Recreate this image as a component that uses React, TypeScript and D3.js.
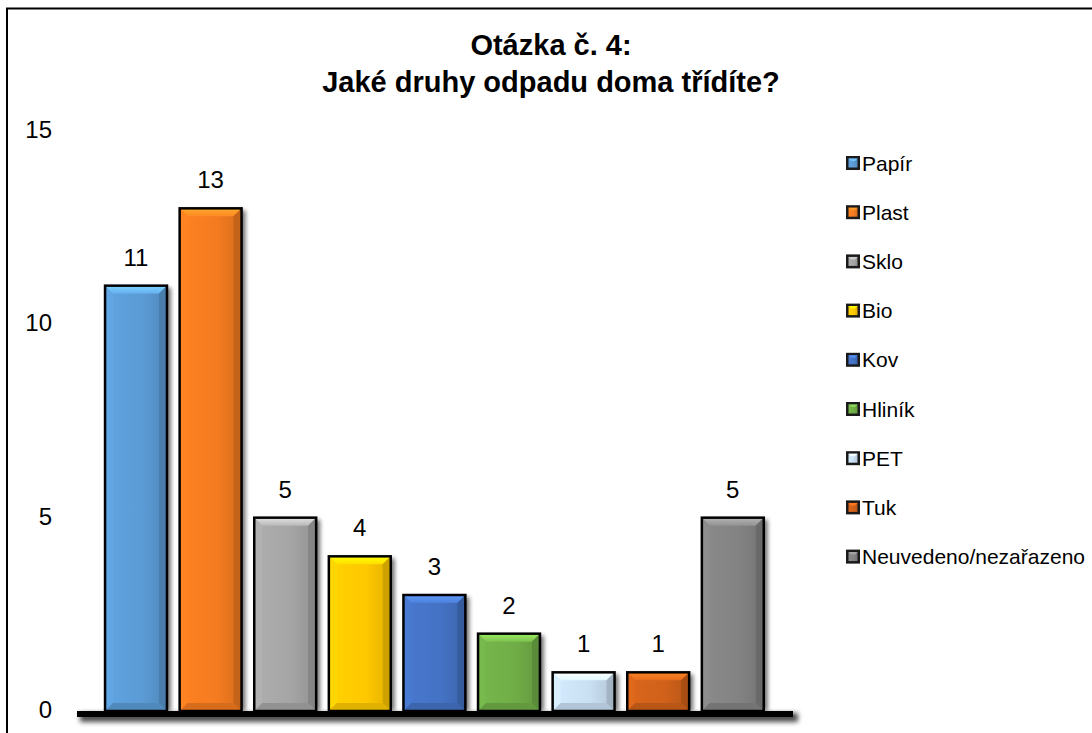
import React from "react";
import * as d3 from "d3";

const categories = ["Papír", "Plast", "Sklo", "Bio", "Kov", "Hliník", "PET", "Tuk", "Neuvedeno/nezařazeno"];
const values = [11, 13, 5, 4, 3, 2, 1, 1, 5];
const colors = ["#5b9bd5", "#f47b20", "#a5a5a5", "#ffc800", "#4472c4", "#70ad47", "#c9dff2", "#d0611a", "#838383"];
const yTicks = [0, 5, 10, 15];
const titleLines = ["Otázka č. 4:", "Jaké druhy odpadu doma třídíte?"];

const W = 1092;
const H = 733;

export default function App() {
  const x = d3.scaleBand<string>().domain(categories).range([98.7, 770.1]).paddingInner(0.17).paddingOuter(0.085);
  const y = d3.scaleLinear().domain([0, 15]).range([711, 131]);
  const bw = x.bandwidth();
  const bev = 8;
  const font = "'Liberation Sans', Arial, sans-serif";

  return (
    <div style={{ position: "absolute", left: 0, top: 0 }}>
      <svg width={W} height={H} style={{ display: "block", background: "#fff" }}>
        <defs>
          <filter id="blur2" x="-20%" y="-50%" width="140%" height="300%">
            <feGaussianBlur stdDeviation="2.5" />
          </filter>
          <filter id="blur1" x="-50%" y="-5%" width="200%" height="110%">
            <feGaussianBlur stdDeviation="1.2" />
          </filter>
          <filter id="bshadow" x="-30%" y="-10%" width="160%" height="120%">
            <feGaussianBlur stdDeviation="2" />
          </filter>
          {colors.map((c, i) => (
            <linearGradient key={i} id={`g${i}`} x1="0" x2="1" y1="0" y2="0">
              <stop offset="0" stopColor={d3.color(c)!.brighter(0.15).toString()} />
              <stop offset="0.6" stopColor={d3.color(c)!.toString()} />
              <stop offset="1" stopColor={d3.color(c)!.darker(0.35).toString()} />
            </linearGradient>
          ))}
          {colors.map((c, i) => (
            <linearGradient key={"t" + i} id={`t${i}`} x1="0" x2="0" y1="0" y2="1">
              <stop offset="0" stopColor={d3.color(c)!.brighter(0.9).toString()} />
              <stop offset="1" stopColor={d3.color(c)!.brighter(0.3).toString()} />
            </linearGradient>
          ))}
        </defs>

        {/* outer border */}
        <rect x={7} y={8.5} width={W + 20} height={H + 20} fill="none" stroke="#000" strokeWidth={2} />

        {/* title */}
        {titleLines.map((t, i) => (
          <text key={i} x={551} y={55 + i * 37} textAnchor="middle" fontFamily={font} fontWeight="bold" fontSize={29} fill="#000">
            {t}
          </text>
        ))}

        {/* walls */}
        <line x1={75} x2={75} y1={135} y2={711} stroke="#999" strokeWidth={2.5} filter="url(#blur1)" />
        <line x1={794} x2={794} y1={130} y2={711} stroke="#aaa" strokeWidth={2.5} filter="url(#blur1)" />

        {/* floor */}
        <rect x={80} y={713} width={718} height={9} fill="#000" opacity={0.7} filter="url(#blur2)" />
        <rect x={77} y={711} width={716} height={6} fill="#000" />

        {/* y tick labels */}
        {yTicks.map((t) => (
          <text key={t} x={52} y={y(t) + 7} textAnchor="end" fontFamily={font} fontSize={24} fill="#000">
            {t}
          </text>
        ))}

        {/* bars */}
        {categories.map((c, i) => {
          const x0 = x(c)!;
          const y0 = y(values[i]);
          const h = y(0) - y0;
          const lighter = d3.color(colors[i])!.brighter(0.25).toString();
          const dark = d3.color(colors[i])!.darker(0.7).toString();
          const darkish = d3.color(colors[i])!.darker(0.35).toString();
          const x1 = x0 + bw;
          const y1 = y(0);
          const b = Math.min(bev, h / 2);
          return (
            <g key={c}>
              <rect x={x0 + 4} y={y0 + 2} width={bw} height={h - 2} fill="#000" opacity={0.55} filter="url(#bshadow)" />
              <rect x={x0} y={y0} width={bw} height={h} fill={`url(#g${i})`} />
              <polygon points={`${x0},${y0} ${x1},${y0} ${x1 - b},${y0 + b} ${x0 + b},${y0 + b}`} fill={`url(#t${i})`} />
              <polygon points={`${x0},${y0} ${x0 + b},${y0 + b} ${x0 + b},${y1 - b} ${x0},${y1}`} fill={lighter} opacity={0.6} />
              <polygon points={`${x1},${y0} ${x1 - b},${y0 + b} ${x1 - b},${y1 - b} ${x1},${y1}`} fill={dark} opacity={0.8} />
              <polygon points={`${x0},${y1} ${x0 + b},${y1 - b} ${x1 - b},${y1 - b} ${x1},${y1}`} fill={darkish} />
              <rect x={x0} y={y0} width={bw} height={h} fill="none" stroke="#000" strokeWidth={2.5} />
              <text x={x0 + bw / 2} y={y0 - 20} textAnchor="middle" fontFamily={font} fontSize={24} fill="#000">
                {values[i]}
              </text>
              <title>{`${c}: ${values[i]}`}</title>
            </g>
          );
        })}

        {/* legend */}
        {categories.map((c, i) => {
          const cy = 163 + i * 49.2;
          return (
            <g key={"l" + c}>
              <rect x={846} y={cy - 7} width={14} height={14} fill="#1a1a1a" />
              <rect x={848.5} y={cy - 4.5} width={9} height={9} fill={`url(#g${i})`} />
              <polygon points={`${848.5},${cy - 4.5} ${857.5},${cy - 4.5} ${855},${cy - 2} ${851},${cy - 2}`} fill={d3.color(colors[i])!.brighter(0.6).toString()} />
              <text x={862} y={cy + 7.5} fontFamily={font} fontSize={21} fill="#000">
                {c}
              </text>
            </g>
          );
        })}
      </svg>
    </div>
  );
}
